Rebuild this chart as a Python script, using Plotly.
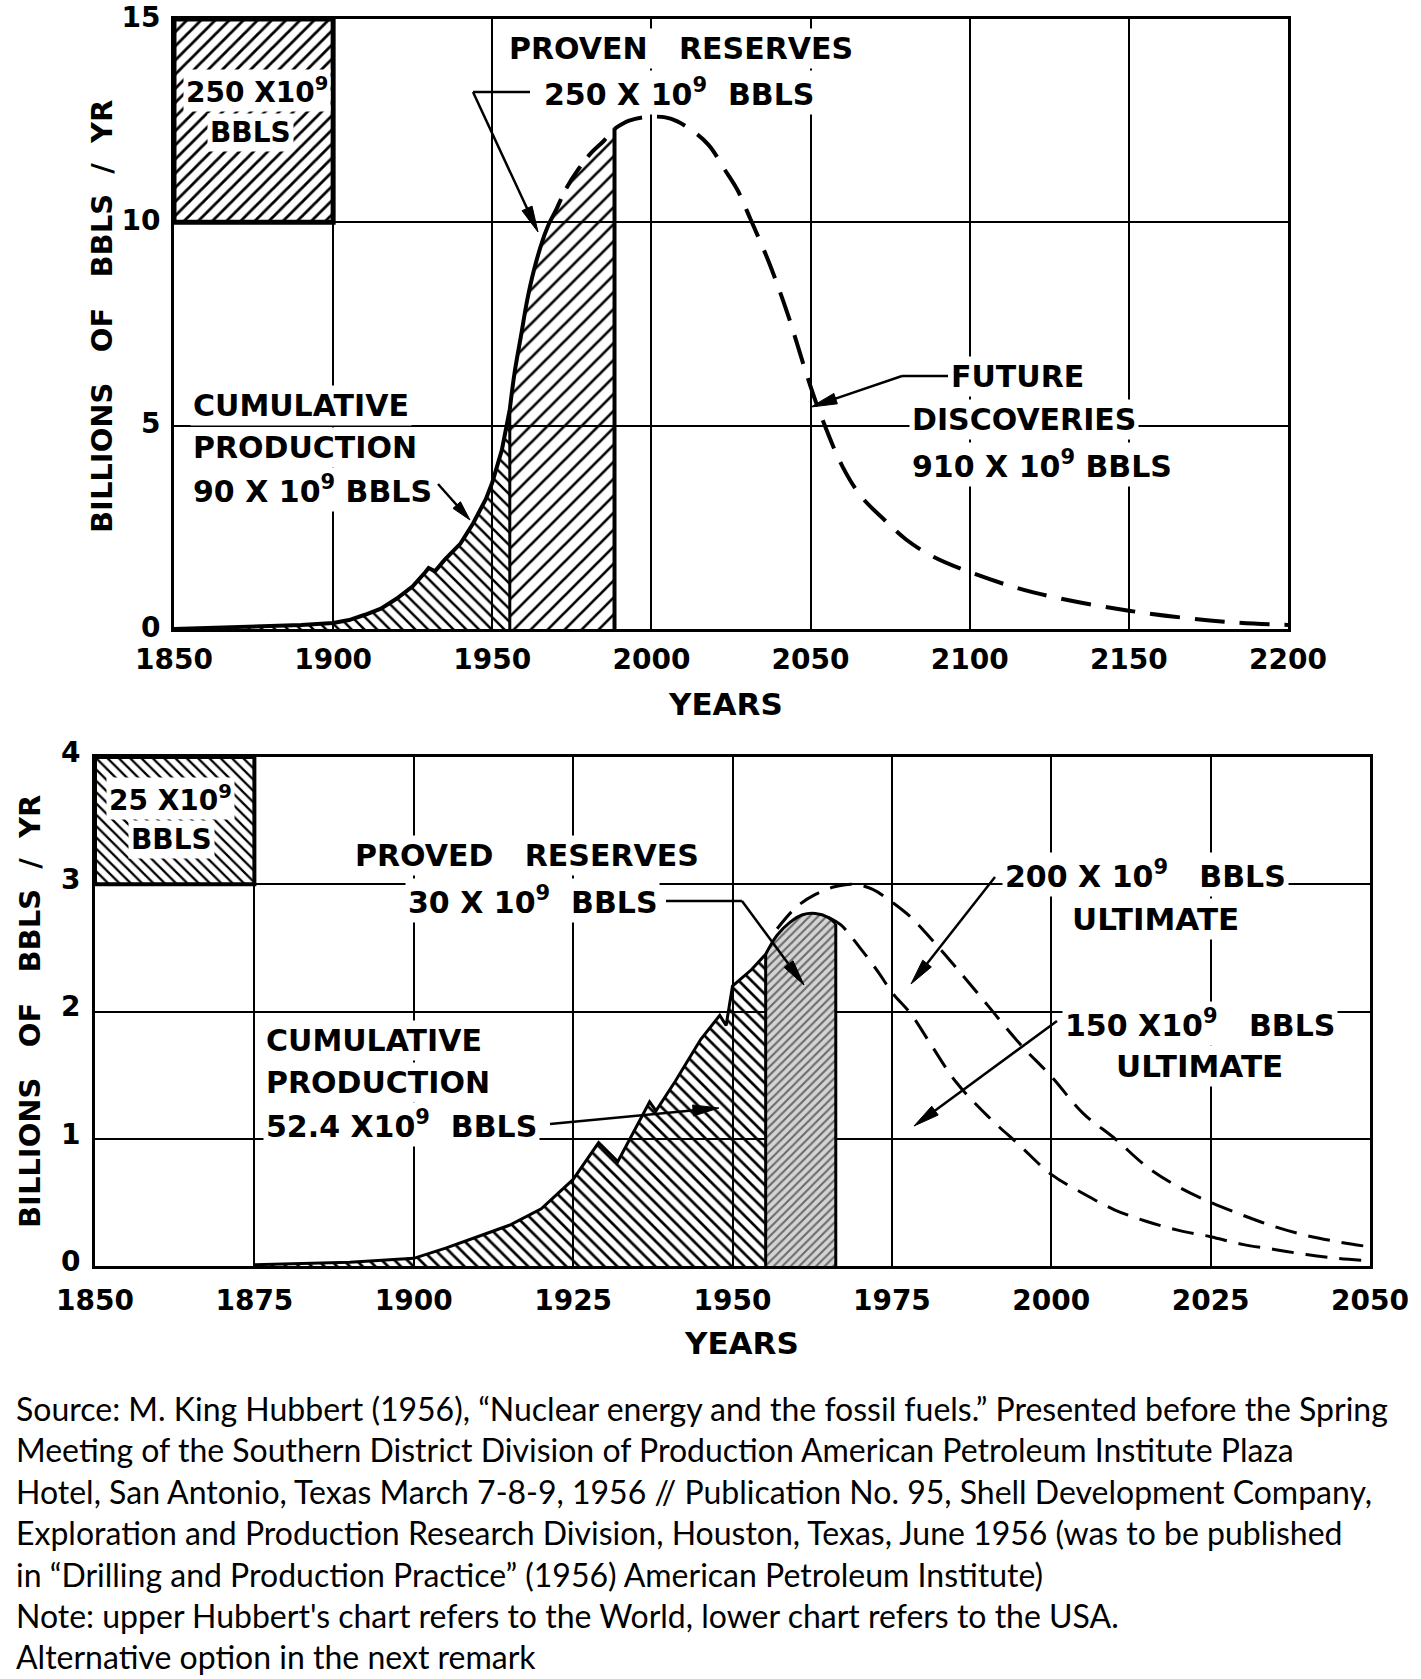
import math
import plotly.graph_objects as go

W, H = 1421, 1679

# ---------------- Upper chart: World ----------------
world_hist_years = [1850, 1860, 1870, 1880, 1890, 1900, 1905, 1910, 1915, 1920, 1925, 1929, 1930,
                    1932, 1935, 1940, 1944, 1948, 1950, 1953, 1955.5]
world_hist_vals = [0.0, 0.02, 0.04, 0.06, 0.1, 0.15, 0.22, 0.35, 0.5, 0.75, 1.05, 1.4, 1.5,
                   1.42, 1.7, 2.1, 2.6, 3.2, 3.6, 4.4, 5.4]
world_reserve_years = [1955.5, 1957, 1959, 1961, 1963, 1966, 1968, 1970, 1973, 1977, 1981, 1985, 1988.4]
world_reserve_vals = [5.4, 6.3, 7.2, 8.1, 8.8, 9.6, 10.0, 10.3, 10.8, 11.3, 11.7, 12.0, 12.3]
world_future_years = [1988.4, 1993, 2000, 2006, 2012, 2018, 2023, 2027, 2031, 2037, 2043, 2049, 2053,
                      2060, 2066, 2073, 2080, 2088, 2100, 2120, 2150, 2180, 2200]
world_future_vals = [12.3, 12.5, 12.6, 12.55, 12.3, 11.9, 11.3, 10.8, 10.1, 9.0, 7.7, 6.2, 5.3,
                     4.0, 3.25, 2.7, 2.2, 1.8, 1.4, 0.9, 0.45, 0.18, 0.1]
world_solid_until = 1968
world_inset_years = [1850, 1900]
world_inset_vals = [10, 15]
world_x_ticks = [1850, 1900, 1950, 2000, 2050, 2100, 2150, 2200]
world_y_ticks = [0, 5, 10, 15]

# ---------------- Lower chart: USA ----------------
usa_hist_years = [1875, 1890, 1900, 1905, 1910, 1915, 1920, 1925, 1929, 1932, 1937, 1938, 1941,
                  1945, 1948, 1949, 1950, 1953, 1955.2]
usa_hist_vals = [0.01, 0.03, 0.06, 0.14, 0.23, 0.32, 0.45, 0.68, 0.97, 0.82, 1.29, 1.22, 1.45,
                 1.78, 1.97, 1.89, 2.2, 2.33, 2.45]
usa_reserve_years = [1955.2, 1957, 1959, 1961, 1963, 1965, 1966.2]
usa_reserve_vals = [2.45, 2.6, 2.7, 2.76, 2.77, 2.74, 2.69]
usa_200_years = [1957, 1960, 1963, 1966, 1969, 1972, 1975, 1978, 1981, 1985, 1990, 1995, 2000,
                 2005, 2010, 2015, 2020, 2025, 2030, 2035, 2040, 2045, 2050]
usa_200_vals = [2.65, 2.82, 2.92, 2.98, 3.0, 2.96, 2.86, 2.74, 2.58, 2.35, 2.05, 1.75, 1.49,
                1.2, 1.0, 0.78, 0.62, 0.5, 0.4, 0.31, 0.24, 0.19, 0.15]
usa_150_years = [1965, 1967, 1970, 1973, 1975, 1978, 1981, 1985, 1990, 1995, 2000, 2005, 2010,
                 2015, 2020, 2025, 2030, 2035, 2040, 2045, 2050]
usa_150_vals = [2.74, 2.68, 2.5, 2.3, 2.15, 1.98, 1.75, 1.45, 1.18, 0.95, 0.72, 0.57, 0.44,
                0.35, 0.28, 0.23, 0.17, 0.13, 0.09, 0.06, 0.04]
usa_inset_years = [1850, 1875]
usa_inset_vals = [3, 4]
usa_x_ticks = [1850, 1875, 1900, 1925, 1950, 1975, 2000, 2025, 2050]
usa_y_ticks = [0, 1, 2, 3, 4]

footer_lines = [
    "Source: M. King Hubbert (1956), \u201cNuclear energy and the fossil fuels.\u201d Presented before the Spring",
    "Meeting of the Southern District Division of Production American Petroleum Institute Plaza",
    "Hotel, San Antonio, Texas March 7-8-9, 1956 // Publication No. 95, Shell Development Company,",
    "Exploration and Production Research Division, Houston, Texas, June 1956 (was to be published",
    "in \u201cDrilling and Production Practice\u201d (1956) American Petroleum Institute)",
    "Note: upper Hubbert's chart refers to the World, lower chart refers to the USA.",
    "Alternative option in the next remark",
]

FONT = "DejaVu Sans"
NB = "\u00a0"

# plot frames in page pixels (left, right, top, bottom)
UP = (174, 1288, 19, 629)
LO = (95, 1370, 757, 1266)


def px(x):
    return x / W


def py(y):
    return 1 - y / H


def pattern(shape, size, sol, bg=None):
    d = dict(shape=shape, size=size, solidity=sol, fgcolor="black")
    if bg:
        d["bgcolor"] = bg
        d["fillmode"] = "overlay"
    return d


fig = go.Figure()


def line_trace(x, y, xa, ya, width=4, dash="solid", shape="linear"):
    fig.add_trace(go.Scatter(x=x, y=y, mode="lines", xaxis=xa, yaxis=ya, hoverinfo="skip",
                             line=dict(color="black", width=width, dash=dash, shape=shape),
                             showlegend=False))


def area_trace(x, y, xa, ya, pat, shape="linear", closed=False):
    fig.add_trace(go.Scatter(x=x, y=y, mode="lines", xaxis=xa, yaxis=ya, hoverinfo="skip",
                             fill="toself" if closed else "tozeroy",
                             fillcolor="rgba(0,0,0,0)", fillpattern=pat,
                             line=dict(color="rgba(0,0,0,0)", width=0, shape=shape),
                             showlegend=False))


# ----- upper traces -----
ix0, ix1 = world_inset_years
iy0, iy1 = world_inset_vals
area_trace([ix0, ix1, ix1, ix0, ix0], [iy0, iy0, iy1, iy1, iy0], "x", "y",
           pattern("/", 10, 0.28), closed=True)
line_trace([ix0, ix1, ix1, ix0, ix0], [iy0, iy0, iy1, iy1, iy0], "x", "y", width=5)

area_trace(world_hist_years, world_hist_vals, "x", "y", pattern("\\", 9, 0.28))
area_trace(world_reserve_years, world_reserve_vals, "x", "y", pattern("/", 12, 0.22), shape="spline")
line_trace(world_hist_years, world_hist_vals, "x", "y", width=4)
solid_x = [v for v in world_reserve_years if v <= world_solid_until]
solid_y = world_reserve_vals[:len(solid_x)]
dash_x = world_reserve_years[len(solid_x) - 1:]
dash_y = world_reserve_vals[len(solid_x) - 1:]
line_trace(solid_x, solid_y, "x", "y", width=4, shape="spline")
line_trace(dash_x, dash_y, "x", "y", width=4, dash="26px,12px", shape="spline")
line_trace([world_hist_years[-1]] * 2, [0, world_hist_vals[-1]], "x", "y", width=3)
line_trace([world_reserve_years[-1]] * 2, [0, world_reserve_vals[-1]], "x", "y", width=4)
line_trace(world_future_years, world_future_vals, "x", "y", width=4, dash="30px,15px", shape="spline")

# ----- lower traces -----
jx0, jx1 = usa_inset_years
jy0, jy1 = usa_inset_vals
area_trace([jx0, jx1, jx1, jx0, jx0], [jy0, jy0, jy1, jy1, jy0], "x2", "y2",
           pattern("\\", 8, 0.28), closed=True)
line_trace([jx0, jx1, jx1, jx0, jx0], [jy0, jy0, jy1, jy1, jy0], "x2", "y2", width=4)

area_trace(usa_hist_years, usa_hist_vals, "x2", "y2", pattern("\\", 9, 0.3))
area_trace(usa_reserve_years, usa_reserve_vals, "x2", "y2", pattern("/", 6, 0.35, bg="#d4d4d4"),
           shape="spline")
line_trace(usa_hist_years, usa_hist_vals, "x2", "y2", width=3)
line_trace(usa_reserve_years, usa_reserve_vals, "x2", "y2", width=3, shape="spline")
line_trace([usa_hist_years[-1]] * 2, [0, usa_hist_vals[-1]], "x2", "y2", width=3)
line_trace([usa_reserve_years[-1]] * 2, [0, usa_reserve_vals[-1]], "x2", "y2", width=3)
line_trace(usa_200_years, usa_200_vals, "x2", "y2", width=3, dash="22px,12px", shape="spline")
line_trace(usa_150_years, usa_150_vals, "x2", "y2", width=3, dash="22px,12px", shape="spline")

# ----- annotations & leader arrows -----
ann = []
shapes = []


def A(text, x, y, size=30, anchor="center", bg=True, angle=0, family=FONT, bold=True, pad=2):
    d = dict(text=text, x=px(x), y=py(y), xref="paper", yref="paper", xanchor=anchor,
             yanchor="middle", showarrow=False, textangle=angle,
             font=dict(family=family, size=size, color="black", weight="bold" if bold else "normal"))
    if bg:
        d["bgcolor"] = "white"
        d["borderpad"] = pad
    ann.append(d)


def SEG(p0, p1, w=2.5):
    shapes.append(dict(type="line", xref="paper", yref="paper", x0=px(p0[0]), y0=py(p0[1]),
                       x1=px(p1[0]), y1=py(p1[1]), line=dict(color="black", width=w)))


def ARROW(tail, tip, L=26, hw=5.5, w=2.5):
    dx, dy = tip[0] - tail[0], tip[1] - tail[1]
    n = math.hypot(dx, dy)
    ux, uy = dx / n, dy / n
    bx, by = tip[0] - ux * L, tip[1] - uy * L
    SEG(tail, (bx + ux * 4, by + uy * 4), w)
    p1 = (bx - uy * hw, by + ux * hw)
    p2 = (bx + uy * hw, by - ux * hw)
    path = "M {:.5f} {:.5f} L {:.5f} {:.5f} L {:.5f} {:.5f} Z".format(
        px(tip[0]), py(tip[1]), px(p1[0]), py(p1[1]), px(p2[0]), py(p2[1]))
    shapes.append(dict(type="path", xref="paper", yref="paper", path=path,
                       fillcolor="black", line=dict(color="black", width=1)))


# upper
A("PROVEN" + NB * 3 + "RESERVES", 681, 48)
A("250 X 10<sup>9</sup>" + NB * 2 + "BBLS", 679, 92)
A("250 X10<sup>9</sup>", 257, 91, size=28)
A("BBLS", 251, 133, size=28)
A("CUMULATIVE", 190, 405, anchor="left")
A("PRODUCTION", 190, 447, anchor="left")
A("90 X 10<sup>9</sup> BBLS", 190, 490, anchor="left")
A("FUTURE", 948, 377, anchor="left")
A("DISCOVERIES", 909, 420, anchor="left")
A("910 X 10<sup>9</sup> BBLS", 909, 464, anchor="left")
A("BILLIONS" + NB * 3 + "OF" + NB * 3 + "BBLS" + NB * 2 + "/" + NB * 2 + "YR", 102, 317,
  size=29, bg=False, angle=-90)
A("YEARS", 726, 704, size=31, bg=False)
SEG((473, 92), (530, 92))
ARROW((473, 92), (538, 232))
ARROW((438, 484), (470, 520), L=20, hw=5)
SEG((902, 376), (948, 376))
ARROW((902, 376), (811, 407))

# lower
A("25 X10<sup>9</sup>", 170, 798, size=28)
A("BBLS", 171, 840, size=28)
A("PROVED" + NB * 3 + "RESERVES", 527, 856)
A("30 X 10<sup>9</sup>" + NB * 2 + "BBLS", 532, 900)
A("CUMULATIVE", 263, 1040, anchor="left")
A("PRODUCTION", 263, 1082, anchor="left")
A("52.4 X10<sup>9</sup>" + NB * 2 + "BBLS", 263, 1124, anchor="left")
A("200 X 10<sup>9</sup>" + NB * 3 + "BBLS", 1002, 874, anchor="left")
A("ULTIMATE", 1155, 919, size=31)
A("150 X10<sup>9</sup>" + NB * 3 + "BBLS", 1062, 1023, anchor="left")
A("ULTIMATE", 1199, 1066, size=31)
A("BILLIONS" + NB * 3 + "OF" + NB * 3 + "BBLS" + NB * 2 + "/" + NB * 2 + "YR", 30, 1012,
  size=29, bg=False, angle=-90)
A("YEARS", 741, 1343, size=31, bg=False)
SEG((666, 901), (742, 901))
ARROW((742, 901), (804, 985))
ARROW((550, 1124), (719, 1108))
ARROW((995, 877), (911, 984))
ARROW((1057, 1021), (914, 1126))

# footer
footer_y = [1408, 1449, 1491, 1532, 1574, 1615, 1656]
for line, yy in zip(footer_lines, footer_y):
    A(line, 14, yy, size=32, anchor="left", bg=False, family="Lato", bold=False)

tickfont = dict(family=FONT, size=28, color="black", weight="bold")
axis_common = dict(showgrid=True, gridcolor="black", gridwidth=2, showline=True, linewidth=3,
                   linecolor="black", mirror=True, ticks="", zeroline=False, tickfont=tickfont,
                   fixedrange=True, automargin=False)

fig.update_layout(
    template="none",
    width=W, height=H, autosize=False,
    margin=dict(l=0, r=0, t=0, b=0, pad=0, autoexpand=False),
    paper_bgcolor="white", plot_bgcolor="white",
    showlegend=False, hovermode=False,
    xaxis=dict(domain=[px(UP[0]), px(UP[1])], range=[1850, 2200], tickvals=world_x_ticks,
               anchor="y", ticklabelstandoff=3, **axis_common),
    yaxis=dict(domain=[py(UP[3]), py(UP[2])], range=[0, 15], tickvals=world_y_ticks,
               anchor="x", ticklabelstandoff=5, ticklabelshift=-2, **axis_common),
    xaxis2=dict(domain=[px(LO[0]), px(LO[1])], range=[1850, 2050], tickvals=usa_x_ticks,
                anchor="y2", ticklabelstandoff=7, **axis_common),
    yaxis2=dict(domain=[py(LO[3]), py(LO[2])], range=[0, 4], tickvals=usa_y_ticks,
                anchor="x2", ticklabelstandoff=6, ticklabelshift=-5, **axis_common),
    annotations=ann,
    shapes=shapes,
)

fig.write_html("out.html", config={"displayModeBar": False},
               post_script="document.body.style.margin='0';")
